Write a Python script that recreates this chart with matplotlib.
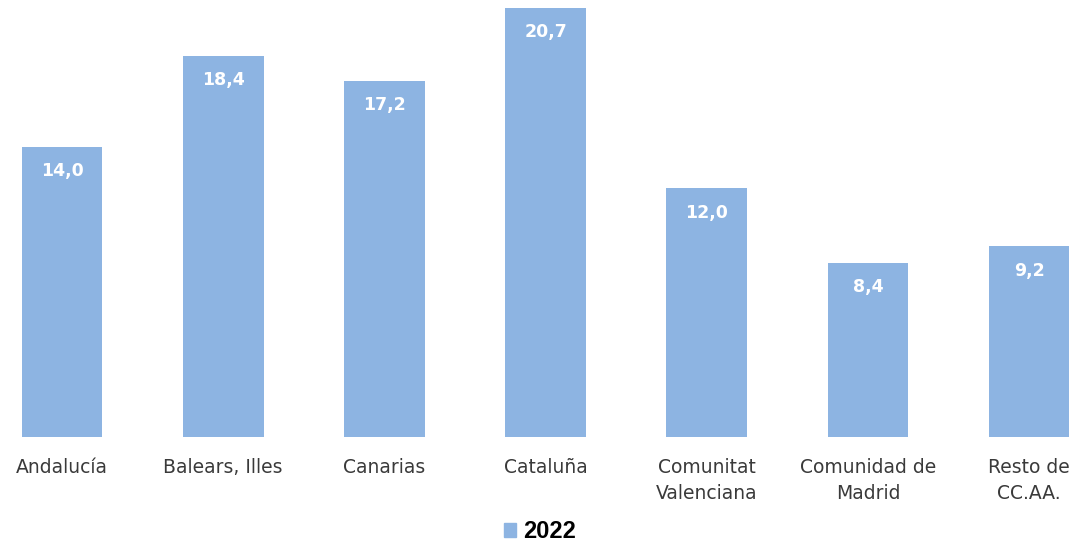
import matplotlib
matplotlib.use("Agg")
import matplotlib.pyplot as plt
from matplotlib.patches import Patch

# Datos
categorias = ["Andalucía", "Balears, Illes", "Canarias", "Cataluña",
              "Comunitat\nValenciana", "Comunidad de\nMadrid", "Resto de\nCC.AA."]
valores = [14.0, 18.4, 17.2, 20.7, 12.0, 8.4, 9.2]
serie = "2022"

color_barra = "#8DB4E2"
plt.rcParams["font.family"] = ["DejaVu Sans"]

fig = plt.figure(figsize=(10.8, 5.49), dpi=100)
ax = fig.add_axes([0, 112 / 549, 1, 429 / 549])

x = list(range(len(categorias)))
barras = ax.bar(x, valores, width=0.5, color=color_barra)

# etiquetas de valor dentro de la barra
for b, v in zip(barras, valores):
    ax.annotate(f"{v:.1f}".replace(".", ","),
                (b.get_x() + b.get_width() / 2, v),
                xytext=(0, -17.5), textcoords="offset points",
                ha="center", va="center", color="white",
                fontsize=12.5, fontweight="bold")

ax.set_xlim(-0.385, 6.316)
ax.set_ylim(0, 20.7)
ax.set_xticks(x)
ax.set_xticklabels(categorias, fontsize=13.5, color="#3a3a3a", linespacing=1.45)
ax.tick_params(axis="x", length=0, pad=15)
ax.set_yticks([])
for s in ax.spines.values():
    s.set_visible(False)

# leyenda
fig.legend(handles=[Patch(color=color_barra, label=serie)],
           loc="center", bbox_to_anchor=(0.5, 1 - 532 / 549),
           frameon=False, handlelength=0.5, handleheight=0.5,
           handletextpad=0.3,
           prop={"family": "Liberation Sans", "size": 17, "weight": "bold"})

fig.savefig("out.png", dpi=100)
